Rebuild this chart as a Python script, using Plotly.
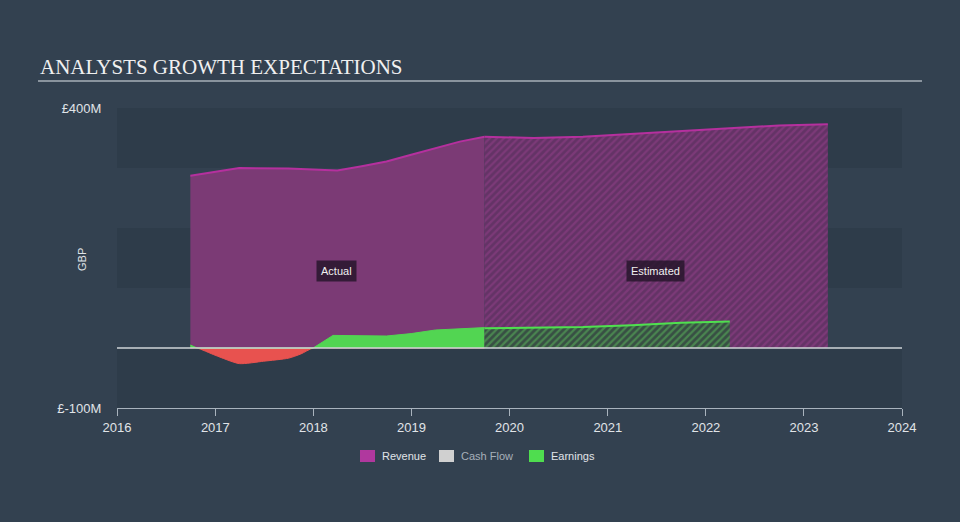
import plotly.graph_objects as go
import numpy as np

# ---- data (GBP millions) ----
rev_act_dates = ["2016-09-30", "2017-03-31", "2017-09-30", "2018-03-31", "2018-06-30",
                 "2018-09-30", "2018-12-31", "2019-03-31", "2019-06-30", "2019-09-30"]
rev_act_vals = [287, 300, 299, 296, 303, 311, 322, 333, 344, 352]

rev_est_dates = ["2019-09-30", "2020-03-31", "2020-09-30", "2021-03-31", "2021-09-30",
                 "2022-03-31", "2022-09-30", "2023-03-31"]
rev_est_vals = [352, 350, 352, 357, 362, 367, 371, 373]

earn_act_dates = ["2016-09-30", "2016-10-25", "2016-12-31", "2017-03-31", "2017-06-30",
                  "2017-09-30", "2017-11-15", "2017-12-31", "2018-03-15", "2018-06-30",
                  "2018-09-30", "2018-12-31", "2019-03-31", "2019-09-30"]
earn_act_vals = [5, 0, -12, -26, -22, -17, -10, 0, 21, 21, 20, 24, 30, 34]

earn_est_dates = ["2019-09-30", "2020-03-31", "2020-09-30", "2021-03-31", "2021-09-30", "2022-03-31"]
earn_est_vals = [33, 34, 35, 38, 42, 44]

year_ticks = [str(y) for y in range(2016, 2025)]
y_tick_vals = [-100, 400]
y_tick_text = ["£-100M", "£400M"]

legend_names = ["Revenue", "Cash Flow", "Earnings"]
legend_colors = ["#b0389e", "#d0d0d0", "#4fdd4f"]
legend_text_colors = ["#e0e4e8", "#a7b0ba", "#e0e4e8"]

# ---- colours ----
REV_FILL = "#7b3a75"
REV_LINE = "#b5309e"
EARN_POS = "#52d552"
EARN_NEG = "#e8524f"
PAPER = "#334150"
PLOT = "#334150"
BAND = "#2e3c4a"

# pixel -> paper helpers (plot area: x 117..902, y 108..408)
def px(x):
    return (x - 117) / 785

def py(y):
    return (408 - y) / 300

fig = go.Figure()

fig.add_trace(go.Scatter(x=rev_act_dates, y=rev_act_vals, mode="lines", fill="tozeroy",
                         fillcolor=REV_FILL, line=dict(color=REV_LINE, width=2),
                         showlegend=False, hoverinfo="skip"))
fig.add_trace(go.Scatter(x=rev_est_dates, y=rev_est_vals, mode="lines", fill="tozeroy",
                         line=dict(color=REV_LINE, width=2),
                         fillpattern=dict(shape="/", bgcolor="#643366", fgcolor="#934089",
                                          size=5, solidity=0.45),
                         showlegend=False, hoverinfo="skip"))

ea = np.array(earn_act_vals, dtype=float)
fig.add_trace(go.Scatter(x=earn_act_dates, y=np.minimum(ea, 0), mode="lines", fill="tozeroy",
                         fillcolor=EARN_NEG, line=dict(color=EARN_NEG, width=1, shape="spline", smoothing=0.6),
                         showlegend=False, hoverinfo="skip"))
fig.add_trace(go.Scatter(x=earn_act_dates, y=np.maximum(ea, 0), mode="lines", fill="tozeroy",
                         fillcolor=EARN_POS, line=dict(color=EARN_POS, width=1),
                         showlegend=False, hoverinfo="skip"))
fig.add_trace(go.Scatter(x=earn_est_dates, y=earn_est_vals, mode="lines", fill="tozeroy",
                         line=dict(color="#4fe04f", width=2),
                         fillpattern=dict(shape="/", bgcolor="#384f44", fgcolor="#5cbc5c",
                                          size=5, solidity=0.45),
                         showlegend=False, hoverinfo="skip"))

shapes = []
for y0, y1 in [(300, 400), (100, 200), (-100, 0)]:
    shapes.append(dict(type="rect", xref="paper", yref="y", x0=0, x1=1, y0=y0, y1=y1,
                       fillcolor=BAND, line=dict(width=0), layer="below"))
shapes.append(dict(type="line", xref="paper", yref="y", x0=0, x1=1, y0=0, y1=0,
                   line=dict(color="#d0d4d8", width=1.5), layer="above"))
shapes.append(dict(type="line", xref="paper", yref="paper", x0=px(38), x1=px(922),
                   y0=py(81), y1=py(81), line=dict(color="#a9b0b8", width=1.5)))

annotations = [
    dict(text="ANALYSTS GROWTH EXPECTATIONS", xref="paper", yref="paper",
         x=px(38), y=py(67), xanchor="left", yanchor="middle",
         showarrow=False, font=dict(family="Liberation Serif", size=21, color="#f0f0f0")),
    dict(text="GBP", xref="paper", yref="paper", x=px(82), y=py(260), textangle=-90,
         xanchor="center", yanchor="middle",
         showarrow=False, font=dict(size=11, color="#e0e4e8")),
    dict(text="Actual", x="2018-03-28", y=128, xref="x", yref="y", showarrow=False,
         font=dict(family="Liberation Sans", size=11, color="#f0f0f0"),
         bgcolor="rgba(35,20,40,0.8)", borderpad=4),
    dict(text="Estimated", x="2021-06-28", y=128, xref="x", yref="y", showarrow=False,
         font=dict(family="Liberation Sans", size=11, color="#f0f0f0"),
         bgcolor="rgba(35,20,40,0.8)", borderpad=4),
]

# custom legend
leg_x = [360, 439, 529]
for lx, name, col, tcol in zip(leg_x, legend_names, legend_colors, legend_text_colors):
    shapes.append(dict(type="rect", xref="paper", yref="paper", x0=px(lx), x1=px(lx + 15),
                       y0=py(462), y1=py(450), fillcolor=col, line=dict(width=0)))
    annotations.append(dict(text=name, xref="paper", yref="paper", x=px(lx + 20), y=py(456),
                            xanchor="left", yanchor="middle", showarrow=False,
                            font=dict(size=11, color=tcol)))

fig.update_layout(
    width=960, height=522,
    margin=dict(l=117, r=58, t=108, b=114),
    paper_bgcolor=PAPER, plot_bgcolor=PLOT,
    font=dict(family="Liberation Sans", size=12, color="#e0e4e8"),
    shapes=shapes, annotations=annotations, showlegend=False,
    xaxis=dict(type="date", range=["2016-01-01", "2024-01-01"],
               tickvals=[f"{y}-01-01" for y in year_ticks], ticktext=year_ticks,
               showgrid=False, zeroline=False, showline=True, linecolor="#a9b3bd", linewidth=1,
               ticks="outside", ticklen=7, tickcolor="#a9b3bd",
               tickfont=dict(size=13, color="#e0e4e8")),
    yaxis=dict(range=[-100, 400], tickvals=y_tick_vals, ticktext=y_tick_text,
               showgrid=False, zeroline=False, showline=False,
               ticks="outside", ticklen=12, tickcolor="rgba(0,0,0,0)",
               tickfont=dict(size=13, color="#e0e4e8")),
    hovermode=False,
)

fig.write_html("out.html")
